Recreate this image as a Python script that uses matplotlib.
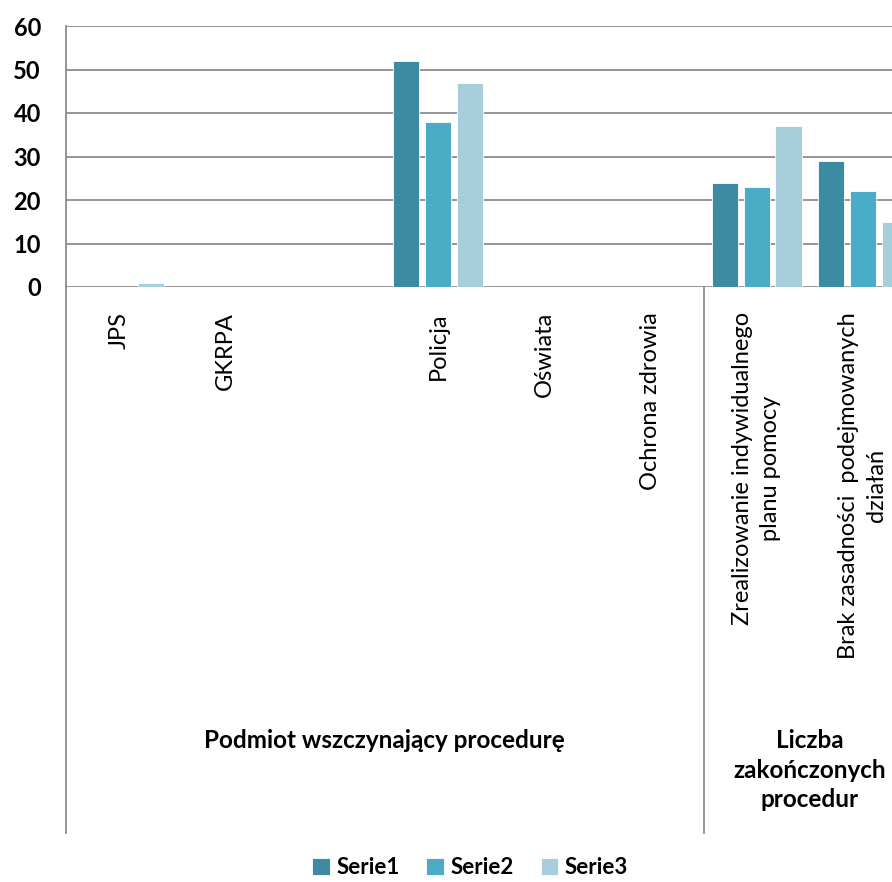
import numpy as np
import matplotlib
matplotlib.use("Agg")
import matplotlib.pyplot as plt
import matplotlib.transforms as mtransforms

plt.rcParams['font.family'] = ['Lato', 'DejaVu Sans']

# data
categories = ['JPS', 'GKRPA', '', 'Policja', 'Oświata', 'Ochrona zdrowia',
              'Zrealizowanie indywidualnego\nplanu pomocy',
              'Brak zasadności  podejmowanych\ndziałań']
groups = ['Podmiot wszczynający procedurę', 'Liczba\nzakończonych\nprocedur']
group_sizes = [6, 2]
series_names = ['Serie1', 'Serie2', 'Serie3']
serie1 = [0, 0, 0, 52, 0, 0, 24, 29]
serie2 = [0, 0, 0, 38, 0, 0, 23, 22]
serie3 = [1, 0, 0, 47, 0, 0, 37, 15]
colors = ['#3c8ba3', '#4bacc6', '#a8cedc']

W, H = 892, 882
fig = plt.figure(figsize=(W / 100, H / 100), dpi=100)
# plot area runs past the right edge, like the cropped original
ax = fig.add_axes([66 / W, (H - 287) / H, 850 / W, 261 / H])

x = np.arange(len(categories))
offsets = [-0.30, 0.0, 0.30]
for vals, off, col, name in zip([serie1, serie2, serie3], offsets, colors, series_names):
    ax.bar(x + off, vals, width=0.245, color=col, label=name, zorder=3,
           edgecolor='white', linewidth=0.6)

ax.set_xlim(-0.5, len(categories) - 0.5)
ax.set_ylim(0, 60)
ax.set_yticks(range(0, 61, 10))
ax.yaxis.grid(True, color='#8c8c8c', linewidth=1.3, zorder=0)
ax.set_axisbelow(True)
for s in ['top', 'right', 'bottom']:
    ax.spines[s].set_visible(False)
ax.spines['left'].set_color('#8c8c8c')
ax.spines['left'].set_linewidth(1.3)
ax.tick_params(axis='y', length=0, pad=18, labelsize=17)
for lab in ax.get_yticklabels():
    lab.set_fontweight('bold')
ax.set_xticks([])

trans = mtransforms.blended_transform_factory(ax.transData, ax.transAxes)
bottom = (287 - 833) / 261

# category labels
for i, c in enumerate(categories):
    ax.text(i, -25 / 261, c, rotation=90, ha='center', va='top',
            multialignment='center', fontsize=17, transform=trans, linespacing=1.4)

# vertical lines: left spine extension and group separator
ax.plot([-0.5, -0.5], [0, bottom], transform=trans, color='#8c8c8c',
        linewidth=1.3, clip_on=False)
edge = -0.5
for gs, g in zip(group_sizes, groups):
    mid = edge + gs / 2
    ypos = (287 - 740) / 261 if gs == 6 else (287 - 770) / 261
    ax.text(mid, ypos, g, ha='center', va='center', multialignment='center',
            fontsize=17.5, fontweight='bold', transform=trans, linespacing=1.32)
    edge += gs
    if edge < len(categories) - 0.5:
        ax.plot([edge, edge], [0, bottom], transform=trans, color='#8c8c8c',
                linewidth=1.3, clip_on=False)

fig.legend(loc='center', bbox_to_anchor=(470 / W, 1 - 868 / H), ncol=3,
           frameon=False, prop={'size': 16, 'weight': 'bold'},
           handlelength=0.8, handleheight=0.8, handletextpad=0.3, columnspacing=1.2)

fig.savefig('out.png', dpi=100)
